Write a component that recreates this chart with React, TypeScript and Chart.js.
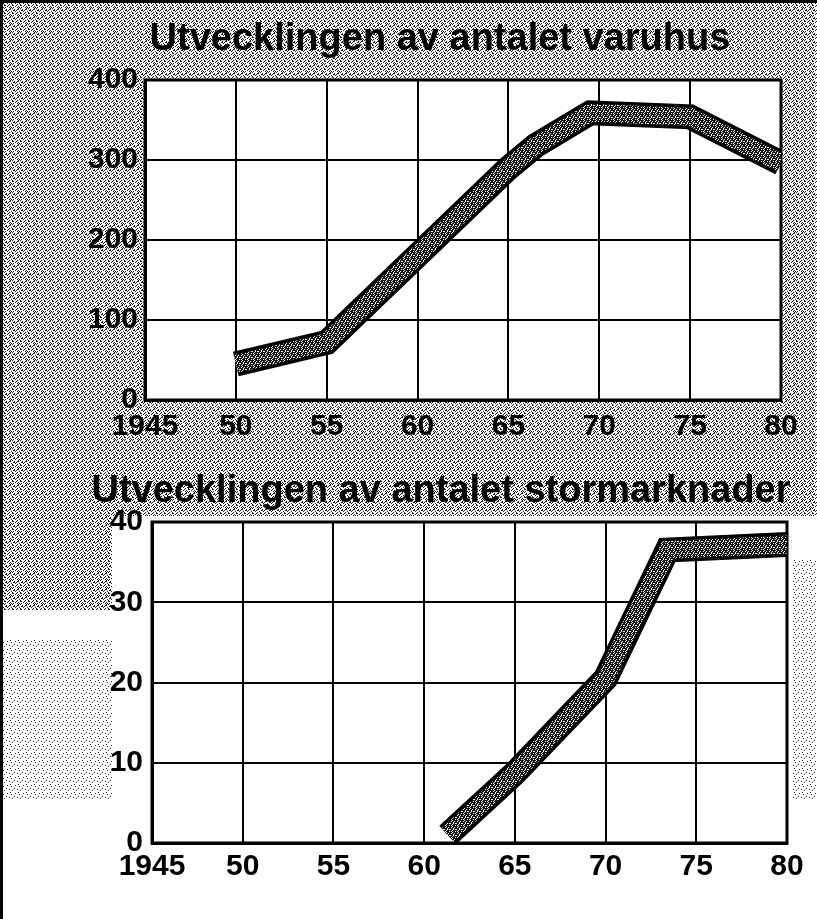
import React, { useEffect, useRef } from 'react';
import { Chart, registerables } from 'chart.js';

Chart.register(...registerables);

// ---------- data ----------
const xTickLabels = ['1945', '50', '55', '60', '65', '70', '75', '80'];
const xMin = 1945;
const xMax = 1980;
const xStep = 5;

const varuhusTitle = 'Utvecklingen av antalet varuhus';
const varuhusYears = [1950, 1955, 1965, 1966.5, 1969.5, 1975, 1980];
const varuhusValues = [45, 72, 290, 318, 359, 354, 296];
const varuhusYTicks = [0, 100, 200, 300, 400];

const storTitle = 'Utvecklingen av antalet stormarknader';
const storYears = [1961.3, 1965, 1970, 1973.4, 1980];
const storValues = [1, 8.7, 20.5, 36.5, 37.2];
const storYTicks = [0, 10, 20, 30, 40];

// ---------- styling helpers ----------
const FONT = "'Liberation Sans', Arial, Helvetica, sans-serif";

const speckleRows = [
  '..#.#...',
  '.##...#.',
  '#....##.',
  '...#...#',
  '.#..#...',
  '#...##..',
  '..#....#',
  '.#.#.#..',
];
const lightSpeckleRows = [
  '......#.',
  '.#......',
  '....#...',
  '........',
  '..#.....',
  '.......#',
  '...#....',
  '........',
];
const bandRows = [
  '##.###',
  '#.##.#',
  '###.##',
  '.##.#.',
  '##.###',
  '#.###.',
];

function makePattern(rows: string[], on: string, off: string): CanvasPattern | string {
  const c = document.createElement('canvas');
  c.width = rows[0].length;
  c.height = rows.length;
  const g = c.getContext('2d');
  if (!g) return off;
  g.fillStyle = off;
  g.fillRect(0, 0, c.width, c.height);
  g.fillStyle = on;
  rows.forEach((r, y) => {
    for (let x = 0; x < r.length; x++) if (r[x] === '#') g.fillRect(x, y, 1, 1);
  });
  return g.createPattern(c, 'repeat') || off;
}

type Rect = [number, number, number, number];

interface PanelProps {
  title: string;
  years: number[];
  values: number[];
  yTicks: number[];
  height: number;
  padTop: number;
  padRight: number;
  yWidth: number;
  xHeight: number;
  xPad: number;
  yPad: number;
  titleX: number;
  titleY: number;
  fullSpeckle: boolean;
  speckleRects: Rect[];
  lightRects: Rect[];
}

function Panel(p: PanelProps) {
  const ref = useRef<HTMLCanvasElement | null>(null);

  useEffect(() => {
    const canvas = ref.current;
    if (!canvas) return;
    const speckle = makePattern(speckleRows, '#1a1a1a', '#ffffff');
    const lightSpeckle = makePattern(lightSpeckleRows, '#333333', '#ffffff');
    const band = makePattern(bandRows, '#151515', '#f4f4f4');

    const outline = p.years.map((yr, i) => ({ x: yr, y: p.values[i] }));
    const inner = p.years.map((yr, i) => ({ x: yr, y: p.values[i] }));
    const yStep = p.yTicks[1] - p.yTicks[0];

    const bgPlugin = {
      id: 'paperBg',
      beforeDraw(chart: any) {
        const ctx = chart.ctx;
        const { width, height, chartArea } = chart;
        ctx.save();
        ctx.fillStyle = '#ffffff';
        ctx.fillRect(0, 0, width, height);
        if (p.fullSpeckle) {
          ctx.fillStyle = speckle;
          ctx.fillRect(0, 0, width, height);
        }
        ctx.fillStyle = speckle;
        p.speckleRects.forEach((r) => ctx.fillRect(r[0], r[1], r[2], r[3]));
        ctx.fillStyle = lightSpeckle;
        p.lightRects.forEach((r) => ctx.fillRect(r[0], r[1], r[2], r[3]));
        ctx.fillStyle = '#ffffff';
        ctx.fillRect(chartArea.left, chartArea.top, chartArea.right - chartArea.left, chartArea.bottom - chartArea.top);
        ctx.fillStyle = '#000000';
        ctx.fillRect(0, 0, 3, height);
        if (p.fullSpeckle) ctx.fillRect(0, 0, width, 3);
        ctx.restore();
      },
      afterDraw(chart: any) {
        const ctx = chart.ctx;
        ctx.save();
        ctx.font = `bold 38px ${FONT}`;
        ctx.fillStyle = '#000';
        ctx.textAlign = 'center';
        ctx.textBaseline = 'alphabetic';
        ctx.fillText(p.title, p.titleX, p.titleY);
        ctx.restore();
      },
      beforeDatasetsDraw(chart: any) {
        const ctx = chart.ctx;
        const { chartArea } = chart;
        ctx.save();
        ctx.strokeStyle = '#000';
        ctx.lineWidth = 3;
        ctx.strokeRect(chartArea.left, chartArea.top, chartArea.right - chartArea.left, chartArea.bottom - chartArea.top);
        ctx.restore();
      },
    };

    const tickFont = { family: FONT, size: 30, weight: 'bold' as const };

    const chart = new Chart(canvas, {
      type: 'line',
      data: {
        datasets: [
          // first dataset is drawn on top in Chart.js
          {
            data: inner,
            borderColor: band as any,
            borderWidth: 18,
            borderJoinStyle: 'miter',
            borderCapStyle: 'butt',
            pointRadius: 0,
            tension: 0,
            fill: false,
          },
          {
            data: outline,
            borderColor: '#000000',
            borderWidth: 25,
            borderJoinStyle: 'miter',
            borderCapStyle: 'butt',
            pointRadius: 0,
            tension: 0,
            fill: false,
          },
        ],
      },
      options: {
        responsive: false,
        animation: false,
        devicePixelRatio: 1,
        events: [],
        layout: { padding: { top: p.padTop, right: p.padRight, left: 0, bottom: 0 } },
        plugins: {
          legend: { display: false },
          title: { display: false },
          tooltip: { enabled: false },
        },
        scales: {
          x: {
            type: 'linear',
            min: xMin,
            max: xMax,
            ticks: {
              stepSize: xStep,
              autoSkip: false,
              maxRotation: 0,
              padding: p.xPad,
              color: '#000',
              font: tickFont,
              callback: (_v: any, i: number) => xTickLabels[i],
            },
            grid: { color: '#000', lineWidth: 2, drawTicks: false },
            border: { color: '#000', width: 3 },
            afterFit: (s: any) => {
              s.height = p.xHeight;
            },
          },
          y: {
            type: 'linear',
            min: p.yTicks[0],
            max: p.yTicks[p.yTicks.length - 1],
            ticks: {
              stepSize: yStep,
              padding: p.yPad,
              color: '#000',
              font: tickFont,
              callback: (v: any) => String(v),
            },
            grid: { color: '#000', lineWidth: 2, drawTicks: false },
            border: { color: '#000', width: 3 },
            afterFit: (s: any) => {
              s.width = p.yWidth;
            },
          },
        },
      },
      plugins: [bgPlugin],
    } as any);

    return () => chart.destroy();
  }, []);

  return <canvas ref={ref} width={817} height={p.height} style={{ display: 'block', width: 817, height: p.height }} />;
}

export default function App() {
  return (
    <div style={{ position: 'absolute', left: 0, top: 0, width: 817, height: 919, background: '#fff' }}>
      <Panel
        title={varuhusTitle}
        years={varuhusYears}
        values={varuhusValues}
        yTicks={varuhusYTicks}
        height={460}
        padTop={80}
        padRight={36}
        yWidth={145}
        xHeight={60}
        xPad={9}
        yPad={7}
        titleX={440}
        titleY={50}
        fullSpeckle={true}
        speckleRects={[]}
        lightRects={[]}
      />
      <Panel
        title={storTitle}
        years={storYears}
        values={storValues}
        yTicks={storYTicks}
        height={459}
        padTop={62}
        padRight={30}
        yWidth={152}
        xHeight={76}
        xPad={6}
        yPad={9}
        titleX={441}
        titleY={42}
        fullSpeckle={false}
        speckleRects={[[0, 0, 817, 56], [0, 56, 112, 94]]}
        lightRects={[[0, 180, 112, 160], [792, 100, 25, 240]]}
      />
    </div>
  );
}
